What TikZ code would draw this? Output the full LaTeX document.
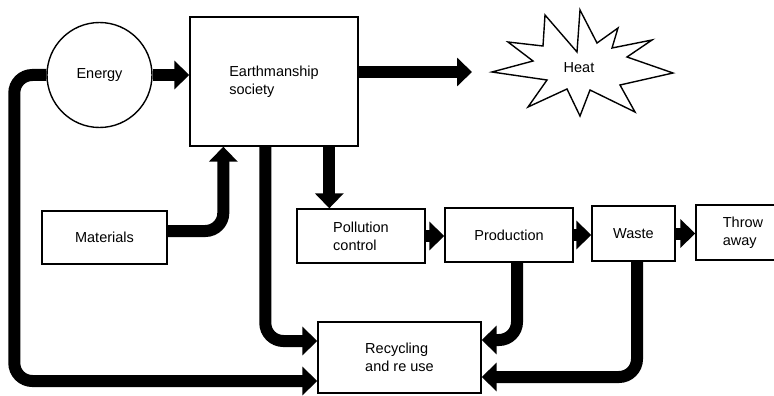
\documentclass[tikz,border=0pt]{standalone}
\usepackage{fontspec}
\setmainfont{Liberation Sans}
\usetikzlibrary{arrows.meta,calc}
\begin{document}
\begin{tikzpicture}[x=1pt,y=-1pt,
  box/.style={draw, line width=1.4pt, inner sep=0pt, align=left},
  flow/.style={line width=12pt, -{Triangle[width=28pt,length=15pt]}, rounded corners=18pt},
  font=\fontsize{14.5}{18}\selectfont]
  \clip (0,0) rectangle (774,396);

  % top row
  \node[box, circle, minimum size=105] (energy) at (99.5,75) {Energy};
  \node[box, minimum width=168, minimum height=129] (earth) at (274,81.5) {Earthmanship\\society};

  % heat star
  \draw[line width=1.4pt, line join=miter] (492,72) -- (533,61) -- (508,42) -- (543,46) -- (545,15)
    -- (577,52) -- (580,10) -- (597,43) -- (618,28) -- (612,48) -- (652,40)
    -- (627,57) -- (673,73) -- (620,85) -- (635,112) -- (590,90) -- (580,116)
    -- (567,89) -- (528,107) -- (547,80) -- cycle;
  \node (heat) at (579,68) {Heat};
  \coordinate (heattip) at (492,72);

  % bottom row
  \node[box, minimum width=125, minimum height=53] (materials) at (104.5,237.5) {Materials};
  \node[box, minimum width=128, minimum height=54] (pollution) at (361,236) {Pollution\\control};
  \node[box, minimum width=128, minimum height=54] (production) at (509,235) {Production};
  \node[box, minimum width=83, minimum height=55] (waste) at (633.5,233.5) {Waste};
  \node[box, minimum width=94, minimum height=55] (throw) at (743,232.5) {Throw\\away};
  \node[box, minimum width=163, minimum height=71] (recycle) at (399.5,357.5) {Recycling\\and re use};

  % flows
  \draw[flow] (energy.east) -- (energy.east -| earth.west);
  \draw[flow] (earth.east |- heattip) -- ($(heattip)+(-20,0)$);
  \draw[flow] ($(materials.east)+(0,-6.5)$) -| ($(earth.south west)+(34,0)$);
  \coordinate (e2p) at ($(earth.south west)+(140,0)$);
  \draw[flow] (e2p) -- (e2p |- pollution.north);
  \coordinate (e2r) at ($(earth.south west)+(76,0)$);
  \draw[flow] (e2r) |- ($(recycle.west)+(0,-16.5)$);
  \draw[flow] (pollution.east) -- (pollution.east -| production.west);
  \draw[flow] (production.east) -- (production.east -| waste.west);
  \draw[flow] (waste.east) -- (waste.east -| throw.west);
  \draw[flow] ($(production.south)+(8,0)$) |- ($(recycle.east)+(0,-17.5)$);
  \draw[flow] ($(waste.south)+(3.5,0)$) |- ($(recycle.east)+(0,19.5)$);
  \draw[flow] (energy.west) -- ++(-32,0) |- ($(recycle.west)+(0,23.5)$);
\end{tikzpicture}
\end{document}
